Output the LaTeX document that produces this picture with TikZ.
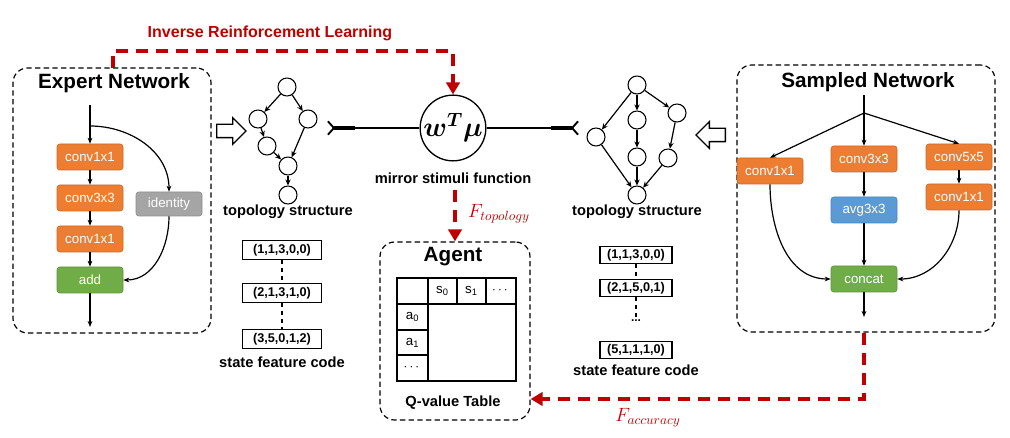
\documentclass[tikz,border=0pt]{standalone}
\usepackage{fontspec}
\setmainfont{Liberation Sans}
\usepackage{amsmath}
\usepackage{bm}
\usetikzlibrary{calc,arrows.meta,positioning,shapes.arrows}

\definecolor{oporange}{HTML}{ED7D31}
\definecolor{opgreen}{HTML}{70AD47}
\definecolor{opblue}{HTML}{5B9BD5}
\definecolor{opgray}{HTML}{A5A5A5}
\definecolor{irlred}{HTML}{C00000}

\tikzset{
  op/.style={rectangle, rounded corners=2pt, fill=#1, draw=#1!85!black, line width=0.4pt,
    minimum width=49.5pt, minimum height=19.5pt, inner sep=1pt, text=white,
    font=\fontsize{10}{12}\selectfont},
  flow/.style={-{Stealth[length=4.5pt,width=3.5pt]}, line width=0.9pt},
  netbox/.style={draw, dash pattern=on 4pt off 2.5pt, line width=0.9pt, rounded corners=11pt},
  title/.style={font=\bfseries\fontsize{15.5}{18}\selectfont},
  lbl/.style={font=\bfseries\fontsize{11}{13}\selectfont},
  vtx/.style={circle, draw, line width=0.8pt, minimum size=13.5pt, inner sep=0pt},
  gedge/.style={-{Stealth[length=4.5pt,width=4pt]}, line width=0.9pt},
  codebox/.style={draw, line width=1pt, minimum height=#1, inner sep=1pt,
    font=\bfseries\fontsize{9.5}{11}\selectfont},
  cell/.style={inner sep=0pt, font=\fontsize{10}{12}\selectfont},
  irl/.style={draw=irlred, line width=3pt, dash pattern=on 9pt off 6pt},
  irltip/.style={-{Triangle[length=9pt,width=10pt]}},
  hollow/.style={single arrow, draw, line width=1pt, minimum height=22pt, inner sep=4.5pt,
    single arrow head extend=5pt},
}

\begin{document}
\begin{tikzpicture}[x=0.75pt,y=-0.75pt]
  \useasboundingbox (0,0) rectangle (1010,438);

  %% Expert network (left)
  \node[netbox, minimum width=148.5pt, minimum height=198.75pt] (expert) at (112,200.5) {};
  \node[title] (etitle) at (114,83) {Expert Network};
  \coordinate (ein) at (90,105);
  \coordinate (esplit) at (90,126);
  \coordinate (eout) at (90,327);
  \node[op=oporange] (ec1) at (90,157) {conv1x1};
  \node[op=oporange] (ec2) at (90,198) {conv3x3};
  \node[op=oporange] (ec3) at (90,239) {conv1x1};
  \node[op=opgreen] (eadd) at (90,280) {add};
  \node[op=opgray, minimum height=18pt] (eid) at (169,204) {identity};
  \draw[flow] (ein) -- (ec1);
  \draw[flow] (ec1) -- (ec2);
  \draw[flow] (ec2) -- (ec3);
  \draw[flow] (ec3) -- (eadd);
  \draw[flow] (eadd) -- (eout);
  \draw[flow] (esplit) to[out=0,in=90] (eid.north);
  \draw[flow] (eid.south) to[out=-90,in=0] (eadd.east);

  %% Sampled network (right)
  \node[netbox, minimum width=193.5pt, minimum height=200.25pt] (sampled) at (866,198.5) {};
  \node[title] (stitle) at (868,82) {Sampled Network};
  \coordinate (sin) at (864,95);
  \coordinate (ssplit) at (864,113);
  \coordinate (sout) at (864,317);
  \node[op=oporange] (sc1) at (770,171) {conv1x1};
  \node[op=oporange] (sc3) at (864,159) {conv3x3};
  \node[op=oporange] (sc5) at (959,157) {conv5x5};
  \node[op=oporange] (sc1b) at (959,197) {conv1x1};
  \node[op=opblue] (savg) at (864,210) {avg3x3};
  \node[op=opgreen] (scat) at (864,279) {concat};
  \draw[line width=0.9pt] (sin) -- (ssplit);
  \draw[flow] (ssplit) -- (sc1.north);
  \draw[flow] (ssplit) -- (sc3);
  \draw[flow] (ssplit) -- (sc5.north);
  \draw[flow] (sc3) -- (savg);
  \draw[flow] (savg) -- (scat);
  \draw[flow] (sc5) -- (sc1b);
  \draw[flow] (sc1.south) to[out=-90,in=180] (scat.west);
  \draw[flow] (sc1b.south) to[out=-90,in=0] (scat.east);
  \draw[flow] (scat) -- (sout);

  %% hollow arrows into the topologies
  \node[hollow] (harL) at (228,131) {};
  \node[hollow, shape border rotate=180] (harR) at (714,135) {};

  %% left topology structure
  \node[vtx] (t1) at (287,87) {};
  \node[vtx] (t2) at (258,119) {};
  \node[vtx] (t3) at (308,119) {};
  \node[vtx] (t4) at (267,146) {};
  \node[vtx] (t5) at (288,166) {};
  \node[vtx] (t6) at (288,195) {};
  \foreach \a/\b in {t1/t2,t1/t3,t2/t4,t4/t5,t3/t5,t5/t6}
    \draw[gedge] (\a) -- (\b);
  \node[lbl] (ttxt) at (288,212) {topology structure};

  %% right topology structure
  \node[vtx] (u1) at (637,85) {};
  \node[vtx] (u2) at (596,137) {};
  \node[vtx] (u3) at (637,120) {};
  \node[vtx] (u4) at (677,113) {};
  \node[vtx] (u5) at (637,157) {};
  \node[vtx] (u6) at (668,158) {};
  \node[vtx] (u7) at (637,195) {};
  \foreach \a/\b in {u1/u2,u1/u3,u1/u4,u3/u5,u4/u6,u2/u7,u5/u7,u6/u7}
    \draw[gedge] (\a) -- (\b);
  \node[lbl] (utxt) at (637,212) {topology structure};

  %% state feature codes
  \node[codebox=14pt, minimum width=59pt] (l1) at (282,250) {(1,1,3,0,0)};
  \node[codebox=14pt, minimum width=59pt] (l2) at (282,293) {(2,1,3,1,0)};
  \node[codebox=14pt, minimum width=59pt] (l3) at (282,339) {(3,5,0,1,2)};
  \draw[dashed, line width=0.9pt] (l1) -- (l2);
  \draw[dashed, line width=0.9pt] (l2) -- (l3);
  \node[lbl] (ltxt) at (282,362) {state feature code};

  \node[codebox=13pt, minimum width=54pt] (r1) at (636,255) {(1,1,3,0,0)};
  \node[codebox=13pt, minimum width=54pt] (r2) at (636,288) {(2,1,5,0,1)};
  \node[font=\bfseries\fontsize{9}{10}\selectfont, inner sep=1pt] (rdots) at (636,321) {...};
  \node[codebox=13pt, minimum width=54pt] (r3) at (636,350) {(5,1,1,1,0)};
  \draw[dashed, line width=0.9pt] (r1) -- (r2);
  \draw[dashed, line width=0.9pt] (r2) -- (rdots);
  \node[lbl] (rtxt) at (636,370) {state feature code};

  %% mirror stimuli function
  \node[circle, draw, line width=1pt, minimum size=48pt, inner sep=0pt] (msf) at (453,128)
    {\fontsize{21}{24}\selectfont$\boldsymbol{w^{T}\mu}$};
  \node[lbl] (msftxt) at (453,178) {mirror stimuli function};
  \coordinate (lfork) at (327,128);
  \coordinate (lbend) at (355,128);
  \coordinate (rbend) at (551,128);
  \coordinate (rfork) at (579,128);
  \draw[line width=0.8pt] (msf.west) -- (lbend);
  \draw[line width=2.6pt, -{Straight Barb[reversed,length=4.5pt,width=10pt,line width=1.4pt]}] (lbend) -- (lfork);
  \draw[line width=0.8pt] (msf.east) -- (rbend);
  \draw[line width=2.6pt, -{Straight Barb[reversed,length=4.5pt,width=10pt,line width=1.4pt]}] (rbend) -- (rfork);

  %% Agent with Q-value table
  \node[netbox, minimum width=112.5pt, minimum height=133.5pt] (agent) at (455,331) {};
  \node[title] (atitle) at (453,257) {Agent};
  \draw[line width=0.8pt] (397,278) rectangle (516,381);
  \draw[line width=0.8pt] (397,304) -- (516,304);
  \draw[line width=0.8pt] (428,278) -- (428,381);
  \draw[line width=0.8pt] (457,278) -- (457,304);
  \draw[line width=0.8pt] (486,278) -- (486,304);
  \draw[line width=0.8pt] (397,330) -- (428,330);
  \draw[line width=0.8pt] (397,355) -- (428,355);
  \node[cell] (s0) at (442.5,291) {s\textsubscript{0}};
  \node[cell] (s1) at (471.5,291) {s\textsubscript{1}};
  \node[cell] (sd) at (501,291) {$\cdots$};
  \node[cell] (a0) at (412.5,317) {a\textsubscript{0}};
  \node[cell] (a1) at (412.5,342.5) {a\textsubscript{1}};
  \node[cell] (ad) at (412.5,368) {$\cdots$};
  \node[lbl] (qtxt) at (453,403) {Q-value Table};

  %% Inverse reinforcement learning
  \coordinate (irlA) at (113,68);
  \coordinate (irlB) at (113,51);
  \coordinate (irlC) at (453,51);
  \draw[irl, irltip] (irlA) -- (irlB) -- (irlC) -- (msf.north);
  \node[font=\bfseries\fontsize{12}{14}\selectfont, text=irlred] (irltxt) at (270,33) {Inverse Reinforcement Learning};

  %% rewards into the agent
  \coordinate (ftop) at (455,190);
  \draw[irl, irltip] (ftop) -- (agent.north);
  \node[text=irlred, font=\fontsize{14}{16}\selectfont] (ftopo) at (499,214) {$F_{topology}$};
  \coordinate (faccA) at (864,333);
  \coordinate (faccB) at (864,399);
  \draw[irl, irltip] (faccA) -- (faccB) -- (faccB -| agent.east);
  \node[text=irlred, font=\fontsize{14}{16}\selectfont] (facc) at (648,418) {$F_{accuracy}$};
\end{tikzpicture}
\end{document}
